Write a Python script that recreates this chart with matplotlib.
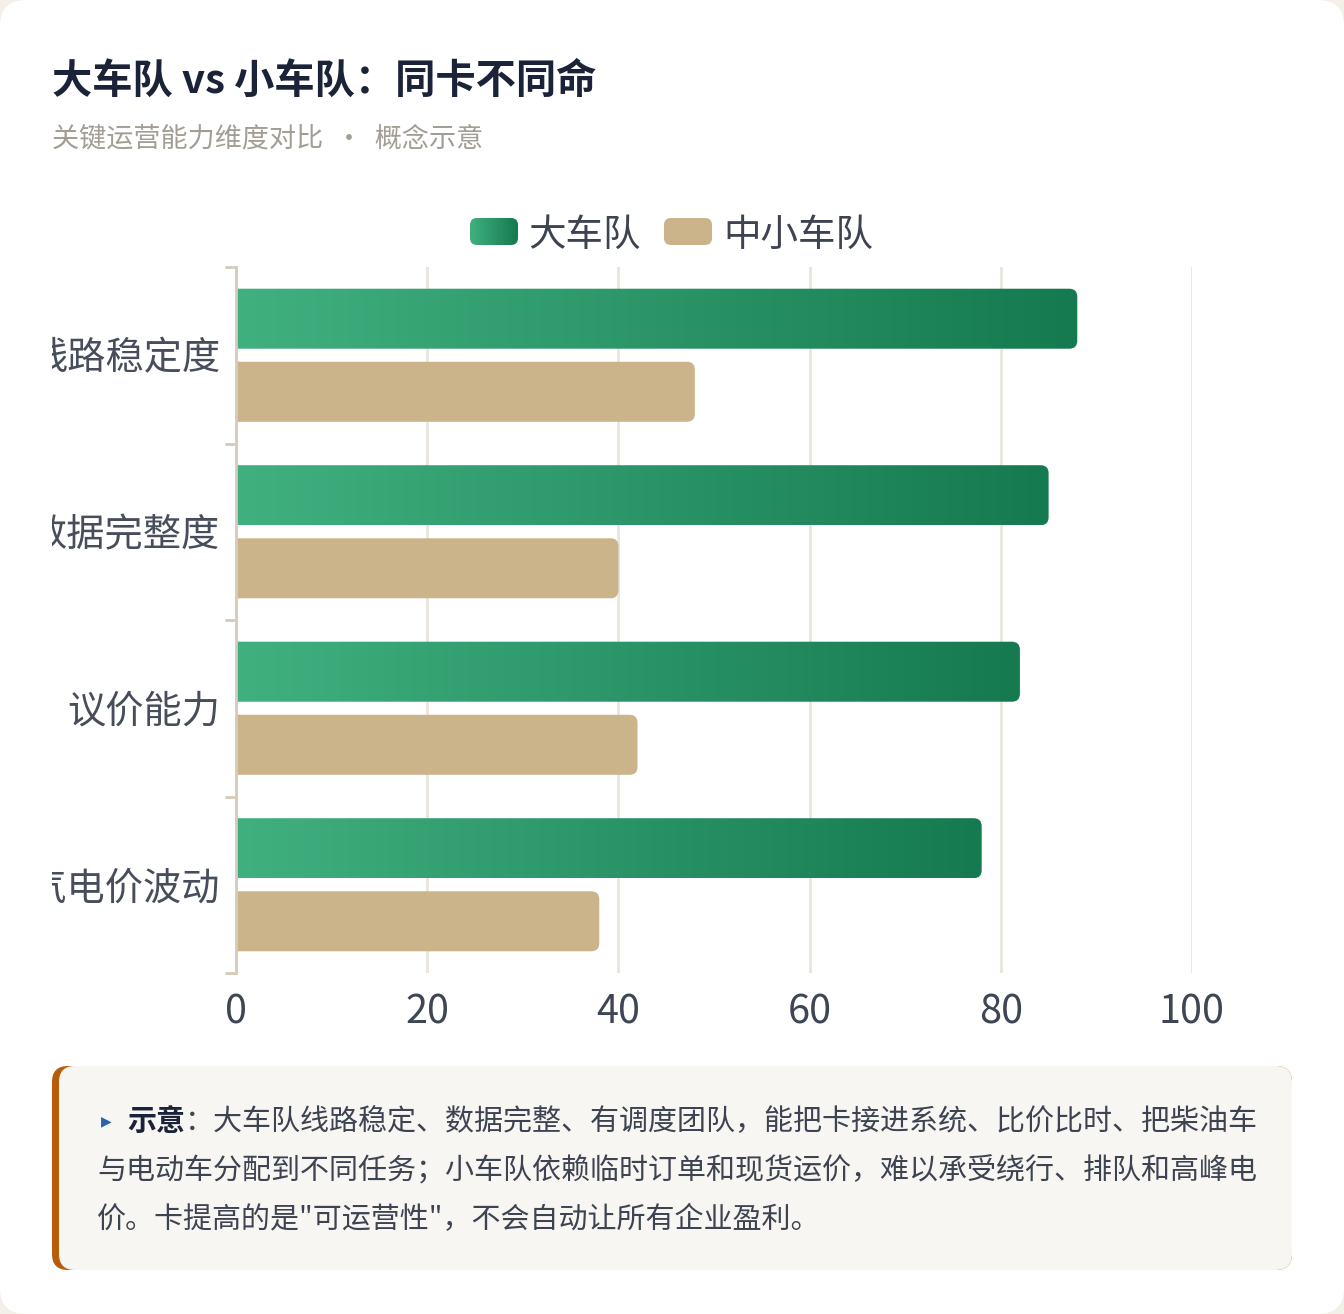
import matplotlib
matplotlib.use('Agg')
import matplotlib.pyplot as plt
import numpy as np
from matplotlib.patches import FancyBboxPatch
from matplotlib.transforms import Bbox, IdentityTransform, offset_copy
from matplotlib.colors import LinearSegmentedColormap

# ---------------- data ----------------
categories = ["线路稳定度", "数据完整度", "议价能力", "油气电价波动"]
big_fleet = [88, 85, 82, 78]
small_fleet = [48, 40, 42, 38]
series_names = ["大车队", "中小车队"]
x_ticks = [0, 20, 40, 60, 80, 100]

title = "大车队 vs 小车队：同卡不同命"
subtitle = "关键运营能力维度对比  ·  概念示意"
note_bold = "示意"
note_lines = [
    "：大车队线路稳定、数据完整、有调度团队，能把卡接进系统、比价比时、把柴油车",
    "与电动车分配到不同任务；小车队依赖临时订单和现货运价，难以承受绕行、排队和高峰电",
    "价。卡提高的是\"可运营性\"，不会自动让所有企业盈利。",
]

# ---------------- style ----------------
W, H = 1344, 1314
DPI = 100
plt.rcParams['font.family'] = ['Noto Sans CJK SC', 'DejaVu Sans']

GREEN_L = '#41b07f'
GREEN_R = '#157a4f'
TAN = '#cbb38a'
SPINE = '#d6cbbb'
GRID = '#ebe6dc'
LABEL = '#474d5a'
green_cmap = LinearSegmentedColormap.from_list('g', [GREEN_L, GREEN_R])
grad = np.linspace(0, 1, 256).reshape(1, -1)

fig = plt.figure(figsize=(W / DPI, H / DPI), dpi=DPI)
fig.patch.set_facecolor('#f3f0ea')


def fx(px):
    return px / W


def fy(py):
    return 1 - py / H


# white card
card = FancyBboxPatch((0, 0), W, H, boxstyle="round,pad=0,rounding_size=26",
                      transform=IdentityTransform(), facecolor='white',
                      edgecolor='none', zorder=0)
fig.add_artist(card)

# titles
fig.text(fx(52), fy(81), title, fontsize=29, fontweight='bold',
         color='#1b2338', va='center', ha='left')
fig.text(fx(52), fy(139), subtitle, fontsize=19.5, color='#a39e95',
         va='center', ha='left')

# ---------------- axes ----------------
ax = fig.add_axes([fx(236), fy(973), (1192 - 236) / W, (973 - 267) / H])
ax.set_facecolor('none')
y = np.arange(len(categories))
off = 0.207
bh = 0.34
bars_big = ax.barh(y - off, big_fleet, height=bh, color='none')
bars_small = ax.barh(y + off, small_fleet, height=bh, color='none')
ax.set_xlim(0, 100)
ax.set_ylim(len(categories) - 0.5, -0.5)

R = 8


def rounded_display(rect):
    x0, y0 = rect.get_x(), rect.get_y()
    x1, y1 = x0 + rect.get_width(), y0 + rect.get_height()
    (px0, py0), (px1, py1) = ax.transData.transform([(x0, y0), (x1, y1)])
    left, right = min(px0, px1), max(px0, px1)
    bot, top = min(py0, py1), max(py0, py1)
    return FancyBboxPatch((left - 2 * R, bot), right - left + 2 * R, top - bot,
                          boxstyle=f"round,pad=0,rounding_size={R}",
                          transform=IdentityTransform())


for rect, v in zip(bars_big, big_fleet):
    p = rounded_display(rect)
    p.set_facecolor('none')
    p.set_edgecolor('none')
    ax.add_artist(p)
    yc = rect.get_y()
    ax.imshow(grad, extent=(0, v, yc + rect.get_height(), yc), aspect='auto',
              cmap=green_cmap, clip_path=p, zorder=3, interpolation='bilinear')

for rect in bars_small:
    p = rounded_display(rect)
    p.set_facecolor(TAN)
    p.set_edgecolor('none')
    p.set_zorder(3)
    ax.add_artist(p)

ax.set_xlim(0, 100)
ax.set_ylim(len(categories) - 0.5, -0.5)

for s in ['top', 'right', 'bottom']:
    ax.spines[s].set_visible(False)
ax.spines['left'].set_color(SPINE)
ax.spines['left'].set_linewidth(2)
ax.spines['left'].set_zorder(4)

ax.set_yticks(np.arange(len(categories) + 1) - 0.5)
ax.set_yticklabels([])
ax.tick_params(axis='y', which='major', length=8, width=2, color=SPINE)

ax.set_xticks(x_ticks)
ax.set_xticklabels([str(t) for t in x_ticks])
ax.tick_params(axis='x', length=0, pad=14, labelsize=28.5, labelcolor='#3e4554')
ax.xaxis.grid(True, color=GRID, linewidth=2)
ax.set_axisbelow(True)

label_trans = offset_copy(ax.get_yaxis_transform(), fig=fig, x=-16, y=-4, units='dots')
clip = Bbox.from_extents(52, 0, W, H)
for yi, cat in zip(y, categories):
    t = ax.text(0, yi, cat, transform=label_trans, ha='right', va='center',
                fontsize=27.5, color=LABEL)
    t.set_clip_box(clip)
    t.set_clip_on(True)

# ---------------- legend ----------------
def legend_swatch(x0, x1, y0, y1, color=None):
    p = FancyBboxPatch((x0, H - y1), x1 - x0, y1 - y0,
                       boxstyle="round,pad=0,rounding_size=7",
                       transform=IdentityTransform(), edgecolor='none',
                       facecolor=color if color else 'none')
    fig.add_artist(p)
    return p


sw = legend_swatch(470, 518, 218, 245)
lax = fig.add_axes([fx(470), fy(245), 48 / W, 27 / H])
lax.imshow(grad, aspect='auto', cmap=green_cmap, extent=(0, 1, 0, 1),
           clip_path=sw, interpolation='bilinear')
lax.axis('off')
fig.text(fx(528), fy(235), series_names[0], fontsize=27, color='#3d4350',
         va='center', ha='left')
legend_swatch(664, 712, 218, 245, TAN)
fig.text(fx(723), fy(235), series_names[1], fontsize=27, color='#3d4350',
         va='center', ha='left')

# ---------------- note box ----------------
orange = FancyBboxPatch((52, H - 1270), 1292 - 52, 1270 - 1066,
                        boxstyle="round,pad=0,rounding_size=16",
                        transform=IdentityTransform(), facecolor='#b85c0a',
                        edgecolor='none', zorder=1)
fig.add_artist(orange)
beige = FancyBboxPatch((59, H - 1270), 1292 - 59, 1270 - 1066,
                       boxstyle="round,pad=0,rounding_size=16",
                       transform=IdentityTransform(), facecolor='#f8f6f2',
                       edgecolor='none', zorder=1)
fig.add_artist(beige)

renderer = fig.canvas.get_renderer()
fs_note = 20.9
tri = fig.text(fx(101), fy(1121), "▶", fontsize=10, color='#2a62ad',
               va='center', ha='left', family=['DejaVu Sans'])
tb = fig.text(fx(127), fy(1122), note_bold, fontsize=fs_note, fontweight='bold',
              color='#1b2338', va='center', ha='left')
wb = tb.get_window_extent(renderer).width
fig.text(fx(127) + wb / W, fy(1122), note_lines[0], fontsize=fs_note,
         color='#3d4350', va='center', ha='left')
fig.text(fx(97), fy(1171), note_lines[1], fontsize=fs_note,
         color='#3d4350', va='center', ha='left')
fig.text(fx(97), fy(1220), note_lines[2], fontsize=fs_note,
         color='#3d4350', va='center', ha='left')

fig.savefig('out.png', dpi=DPI, facecolor=fig.get_facecolor())
